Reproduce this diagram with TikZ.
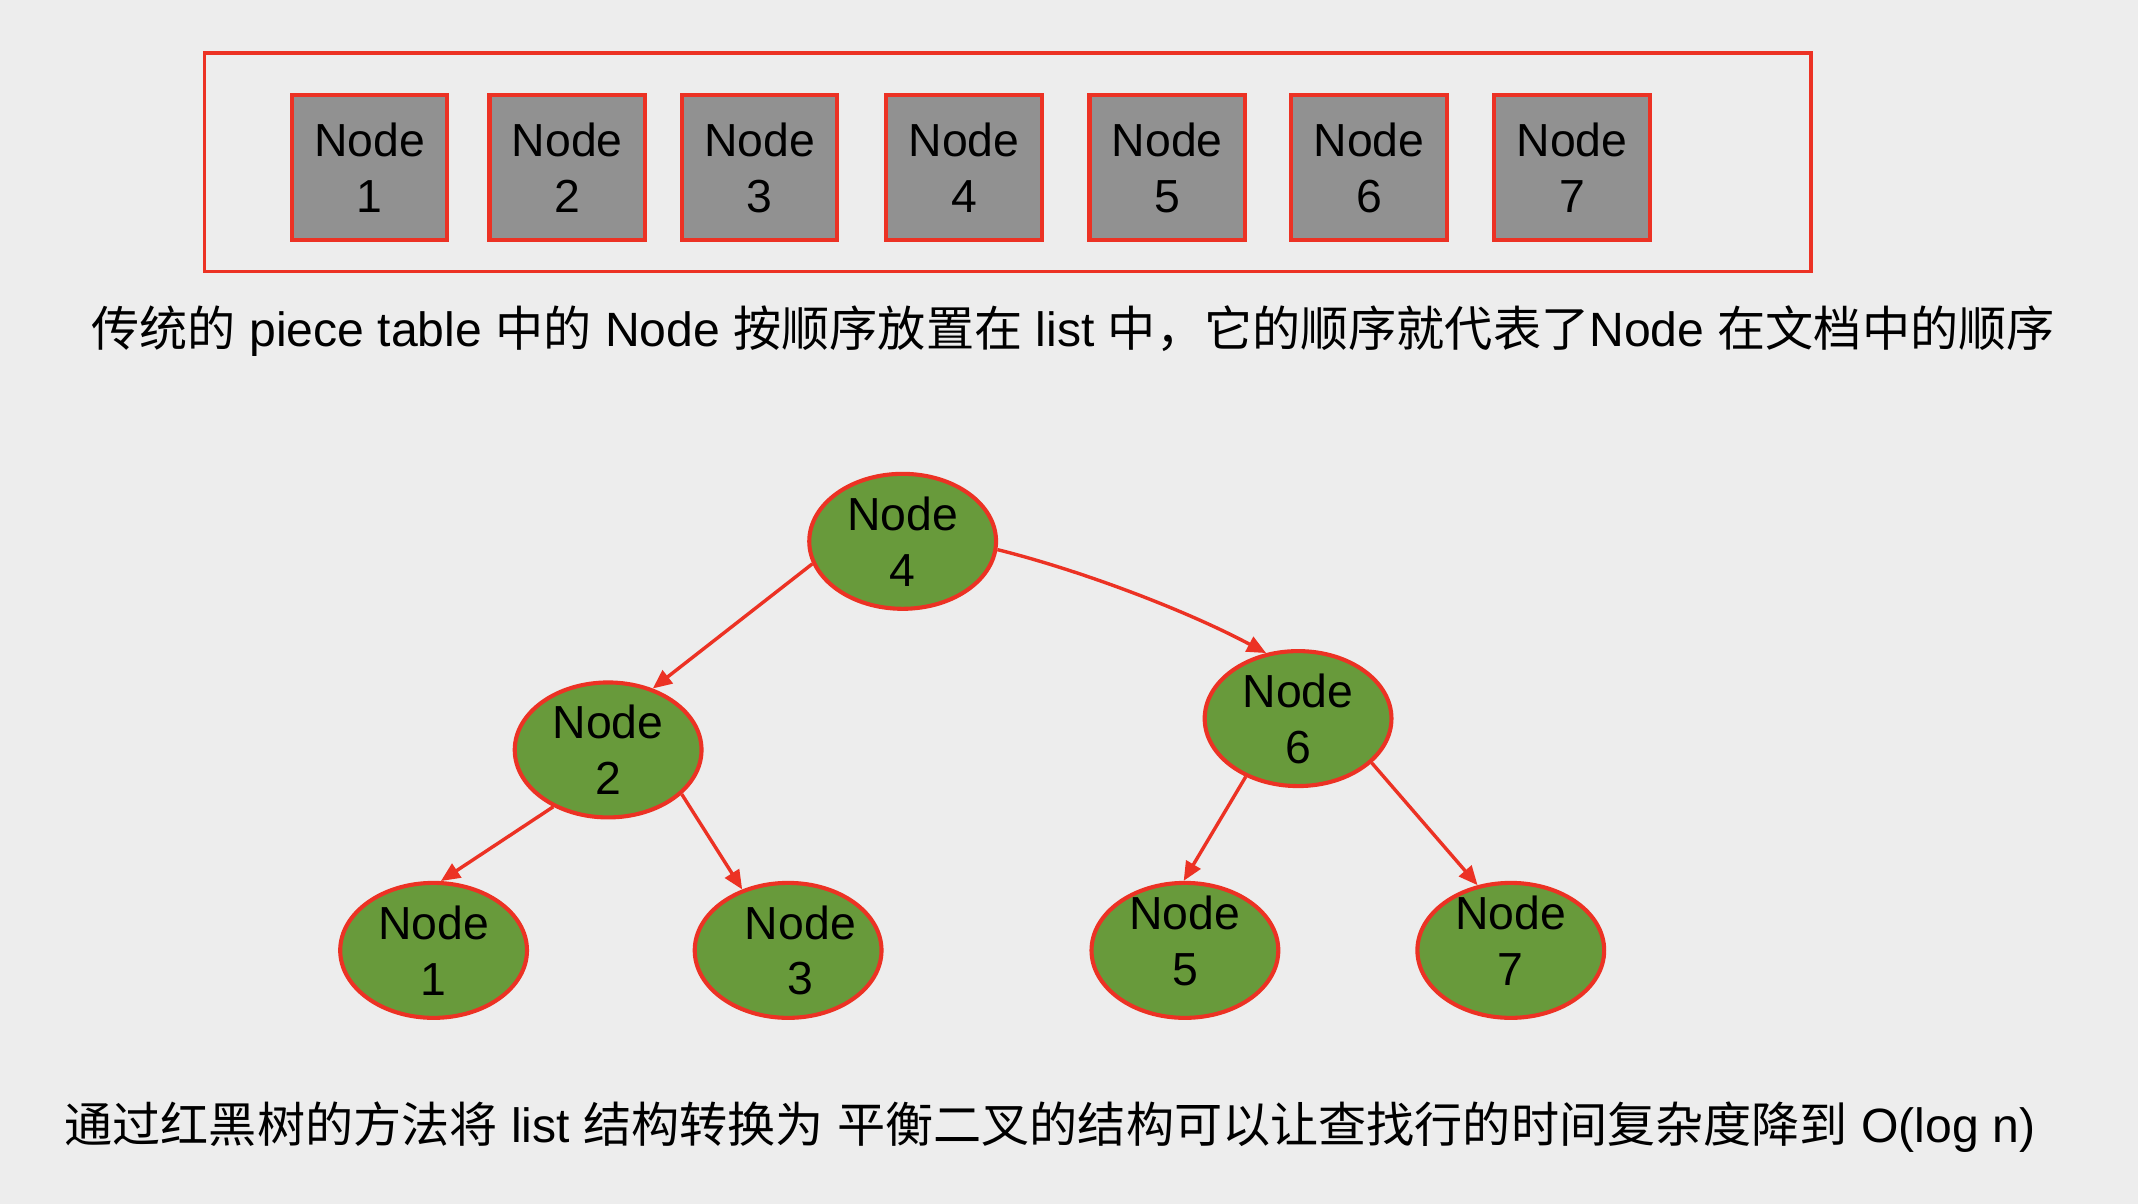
\documentclass[tikz,border=0pt]{standalone}
\usepackage{fontspec}
\setmainfont{Liberation Sans}
\newfontfamily\cjk{Noto Sans CJK SC}
\usetikzlibrary{shapes.geometric,arrows.meta}
\definecolor{bgcol}{RGB}{237,237,237}
\definecolor{lred}{RGB}{236,50,36}
\definecolor{boxgray}{RGB}{145,145,145}
\definecolor{tgreen}{RGB}{104,154,59}
\begin{document}
\begin{tikzpicture}[x=1pt,y=-1pt,
  frame/.style={draw=lred, line width=2.6pt, minimum width=1178pt, minimum height=160pt, inner sep=0pt},
  listbox/.style={draw=lred, line width=3pt, fill=boxgray, minimum width=114pt, minimum height=106pt, inner sep=0pt, align=center, font=\fontsize{34}{41}\selectfont},
  treenode/.style={ellipse, draw=lred, line width=3pt, fill=tgreen, minimum width=137pt, minimum height=99pt, inner sep=-20pt, align=center, font=\fontsize{34}{41}\selectfont},
  link/.style={draw=lred, line width=2.5pt, -{Triangle[length=14pt,width=12pt]}},
  caption/.style={font=\fontsize{35.3}{40}\selectfont, inner sep=0pt, anchor=base}
]
\fill[bgcol] (0,0) rectangle (1568,883);
\useasboundingbox (0,0) rectangle (1568,883);

\node[frame] (list) at (739,119) {};
\node[listbox] (b1) at (271,123) {Node\\1};
\node[listbox] (b2) at (416,123) {Node\\2};
\node[listbox] (b3) at (557,123) {Node\\3};
\node[listbox] (b4) at (707,123) {Node\\4};
\node[listbox] (b5) at (856,123) {Node\\5};
\node[listbox] (b6) at (1004,123) {Node\\6};
\node[listbox] (b7) at (1153,123) {Node\\7};

\node[caption] (cap1) at (787,254) {{\cjk 传统的} piece table {\cjk 中的} Node {\cjk 按顺序放置在} list {\cjk 中，它的顺序就代表了}Node {\cjk 在文档中的顺序}};

\node[treenode] (n4) at (662,397) {Node\\4};
\node[treenode] (n2) at (446,550) {Node\\2};
\node[treenode] (n6) at (952,527) {Node\\6};
\node[treenode] (n1) at (318,697) {Node\\1};
\node[treenode] (n3) at (578,697) {\hspace*{18pt}Node\\\hspace*{18pt}3};
\node[treenode, text depth=14pt] (n5) at (869,697) {Node\\5};
\node[treenode, text depth=14pt] (n7) at (1108,697) {Node\\7};

\draw[link] (n4.194) -- (n2.54);
\draw[link] (n4.-5) .. controls +(60,15) and +(-60,-32) .. (n6.116);
\draw[link] (n2.226) -- (n1.84);
\draw[link] (n2.-31) -- (n3.127);
\draw[link] (n6.228) -- (n5.91);
\draw[link] (n6.-31) -- (n7.117);

\node[caption] (cap2) at (770,838) {{\cjk 通过红黑树的方法将} list {\cjk 结构转换为} {\cjk 平衡二叉的结构可以让查找行的时间复杂度降到} O(log n)};
\end{tikzpicture}
\end{document}
